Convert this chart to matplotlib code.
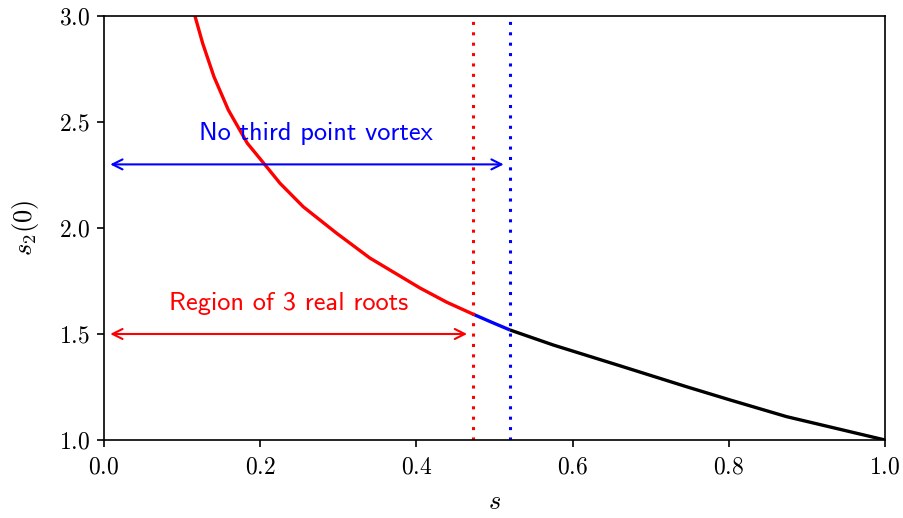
import numpy as np
import matplotlib
matplotlib.use("Agg")
import matplotlib.pyplot as plt

plt.rcParams["mathtext.fontset"] = "cm"
plt.rcParams["font.family"] = "cmr10"
plt.rcParams["axes.formatter.use_mathtext"] = True

# ── curve s2(0) against s, split into three regimes ───────────────────────────
s_red  = [0.1165, 0.1264, 0.1408, 0.1592, 0.1835, 0.2040, 0.2254, 0.2552,
          0.2980, 0.3406, 0.4046, 0.4388, 0.4729]
s2_red = [3.000, 2.871, 2.714, 2.557, 2.400, 2.308, 2.211, 2.100,
          1.975, 1.858, 1.717, 1.650, 1.593]

s_blue  = [0.4729, 0.4960, 0.5198]
s2_blue = [1.593, 1.556, 1.519]

s_black  = [0.5198, 0.5753, 0.6607, 0.7461, 0.8015, 0.8741, 1.0000]
s2_black = [1.519, 1.448, 1.350, 1.251, 1.189, 1.110, 1.000]

# thresholds
s_three_roots = 0.4729
s_no_vortex   = 0.5198

# arrow heights
y_no_vortex   = 2.3
y_three_roots = 1.5

fig = plt.figure(figsize=(9.04, 5.18), dpi=100)
ax = fig.add_axes([0.115, 0.1506, 0.864, 0.8185])

line_kw = dict(lw=2.4, solid_capstyle="butt", solid_joinstyle="round")
ax.plot(s_red, s2_red, color="red", **line_kw)
ax.plot(s_blue, s2_blue, color="blue", **line_kw)
ax.plot(s_black, s2_black, color="black", **line_kw)

ax.axvline(s_three_roots, color="red", lw=2.2, ls=(0, (1, 2.4)))
ax.axvline(s_no_vortex, color="blue", lw=2.2, ls=(0, (1, 2.4)))

arrow_kw = dict(arrowstyle="<->", lw=1.5, mutation_scale=18,
                shrinkA=4.5, shrinkB=4.5)
ax.annotate("", xy=(0.0, y_no_vortex), xytext=(s_no_vortex, y_no_vortex),
            arrowprops=dict(color="blue", **arrow_kw))
ax.annotate("", xy=(0.0, y_three_roots), xytext=(s_three_roots, y_three_roots),
            arrowprops=dict(color="red", **arrow_kw))

ax.text(s_no_vortex / 2 + 0.011, y_no_vortex + 0.148, "No third point vortex",
        color="blue", fontsize=19, family="cmss10", ha="center", va="center")
ax.text(s_three_roots / 2, y_three_roots + 0.142, "Region of 3 real roots",
        color="red", fontsize=19, family="cmss10", ha="center", va="center")

ax.set_xlim(0, 1)
ax.set_ylim(1, 3)
ax.set_xticks(np.arange(0, 1.01, 0.2))
ax.set_yticks(np.arange(1, 3.01, 0.5))
ax.tick_params(labelsize=17, width=1.2, length=5)
ax.tick_params(axis="x", pad=7)
ax.tick_params(axis="y", pad=5)
for sp in ax.spines.values():
    sp.set_linewidth(1.2)

ax.set_xlabel("$s$", fontsize=19, labelpad=8)
ax.set_ylabel("$s_2(0)$", fontsize=19, labelpad=13)

fig.savefig("out.png", dpi=100)
